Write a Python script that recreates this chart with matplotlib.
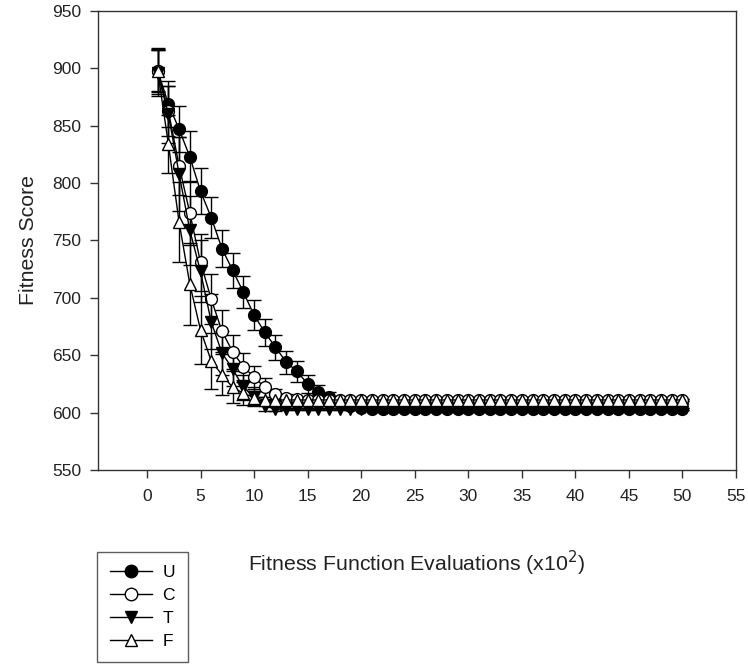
import matplotlib
matplotlib.use("Agg")
import matplotlib.pyplot as plt
from matplotlib.lines import Line2D
import numpy as np

plt.rcParams['font.family'] = ['Liberation Sans', 'DejaVu Sans']

evals = list(range(1, 51))

u_mean = [898, 869, 847, 823, 793, 770, 743, 724, 705, 685,
          670, 657, 644, 636, 625, 618, 614, 609, 606, 604,
          603, 603, 603, 603, 603, 603, 603, 603, 603, 603,
          603, 603, 603, 603, 603, 603, 603, 603, 603, 603,
          603, 603, 603, 603, 603, 603, 603, 603, 603, 603]
u_err = [19, 20, 20, 22, 20, 18, 16, 15, 14, 13,
         12, 11, 10, 9, 8, 6, 4, 3, 2, 1,
         1, 1, 1, 1, 1, 1, 1, 1, 1, 1,
         1, 1, 1, 1, 1, 1, 1, 1, 1, 1,
         1, 1, 1, 1, 1, 1, 1, 1, 1, 1]

c_mean = [898, 863, 815, 774, 731, 699, 671, 653, 640, 631,
          622, 616, 613, 612, 611, 611, 611, 611, 611, 611,
          611, 611, 611, 611, 611, 611, 611, 611, 611, 611,
          611, 611, 611, 611, 611, 611, 611, 611, 611, 611,
          611, 611, 611, 611, 611, 611, 611, 611, 611, 611]
c_err = [18, 22, 25, 28, 25, 22, 18, 15, 12, 10,
         8, 5, 3, 2, 1, 1, 1, 1, 1, 1,
         1, 1, 1, 1, 1, 1, 1, 1, 1, 1,
         1, 1, 1, 1, 1, 1, 1, 1, 1, 1,
         1, 1, 1, 1, 1, 1, 1, 1, 1, 1]

t_mean = [896, 860, 808, 759, 723, 679, 652, 638, 622, 614,
          606, 603, 603, 603, 603, 603, 603, 603, 603, 603,
          603, 603, 603, 603, 603, 603, 603, 603, 603, 603,
          603, 603, 603, 603, 603, 603, 603, 603, 603, 603,
          603, 603, 603, 603, 603, 603, 603, 603, 603, 603]
t_err = [20, 25, 32, 30, 27, 24, 19, 15, 11, 8,
         5, 2, 1, 1, 1, 1, 1, 1, 1, 1,
         1, 1, 1, 1, 1, 1, 1, 1, 1, 1,
         1, 1, 1, 1, 1, 1, 1, 1, 1, 1,
         1, 1, 1, 1, 1, 1, 1, 1, 1, 1]

f_mean = [898, 834, 766, 712, 672, 645, 633, 622, 617, 613,
          611, 611, 611, 611, 611, 611, 611, 611, 611, 611,
          611, 611, 611, 611, 611, 611, 611, 611, 611, 611,
          611, 611, 611, 611, 611, 611, 611, 611, 611, 611,
          611, 611, 611, 611, 611, 611, 611, 611, 611, 611]
f_err = [20, 25, 35, 36, 30, 24, 18, 14, 10, 6,
         3, 1, 1, 1, 1, 1, 1, 1, 1, 1,
         1, 1, 1, 1, 1, 1, 1, 1, 1, 1,
         1, 1, 1, 1, 1, 1, 1, 1, 1, 1,
         1, 1, 1, 1, 1, 1, 1, 1, 1, 1]

series = [
    ('U', u_mean, u_err, 'o', 'black'),
    ('C', c_mean, c_err, 'o', 'white'),
    ('T', t_mean, t_err, 'v', 'black'),
    ('F', f_mean, f_err, '^', 'white'),
]

fig = plt.figure(figsize=(7.48, 6.67), dpi=100)
ax = fig.add_axes([0.1306, 0.2954, 0.984 - 0.1306, 0.9835 - 0.2954])

handles = []
for name, mean, err, mk, fc in series:
    ax.errorbar(evals, mean, yerr=err, color='black', lw=1, marker=mk,
                markersize=8.5, markerfacecolor=fc, markeredgecolor='black',
                markeredgewidth=1, ecolor='black', elinewidth=1,
                capsize=5, capthick=1)
    handles.append(Line2D([], [], color='black', lw=1, marker=mk, markersize=9,
                          markerfacecolor=fc, markeredgecolor='black', label=name))

ax.set_xlim(-4.6, 55)
ax.set_ylim(550, 950)
ax.set_xticks(np.arange(0, 56, 5))
ax.set_yticks(np.arange(550, 951, 50))
ax.tick_params(direction='out', length=6, width=1, labelsize=12.5,
               color='#333333', labelcolor='#222222')
ax.tick_params(axis='x', pad=8)
ax.tick_params(axis='y', pad=6)
for s in ax.spines.values():
    s.set_linewidth(1)
    s.set_color('#333333')

ax.set_xlabel('Fitness Function Evaluations (x10$^2$)', fontsize=15.3,
              labelpad=32, color='#222222')
ax.set_ylabel('Fitness Score', fontsize=15.3, labelpad=10, color='#222222')

leg = fig.legend(handles=handles, loc='upper left', bbox_to_anchor=(0.130, 0.172),
                 frameon=True, fancybox=False, edgecolor='#333333', fontsize=12.5,
                 handlelength=2.4, labelspacing=0.45, borderpad=0.75,
                 handletextpad=0.6, borderaxespad=0)
leg.get_frame().set_linewidth(1)

fig.savefig('out.png', dpi=100)
